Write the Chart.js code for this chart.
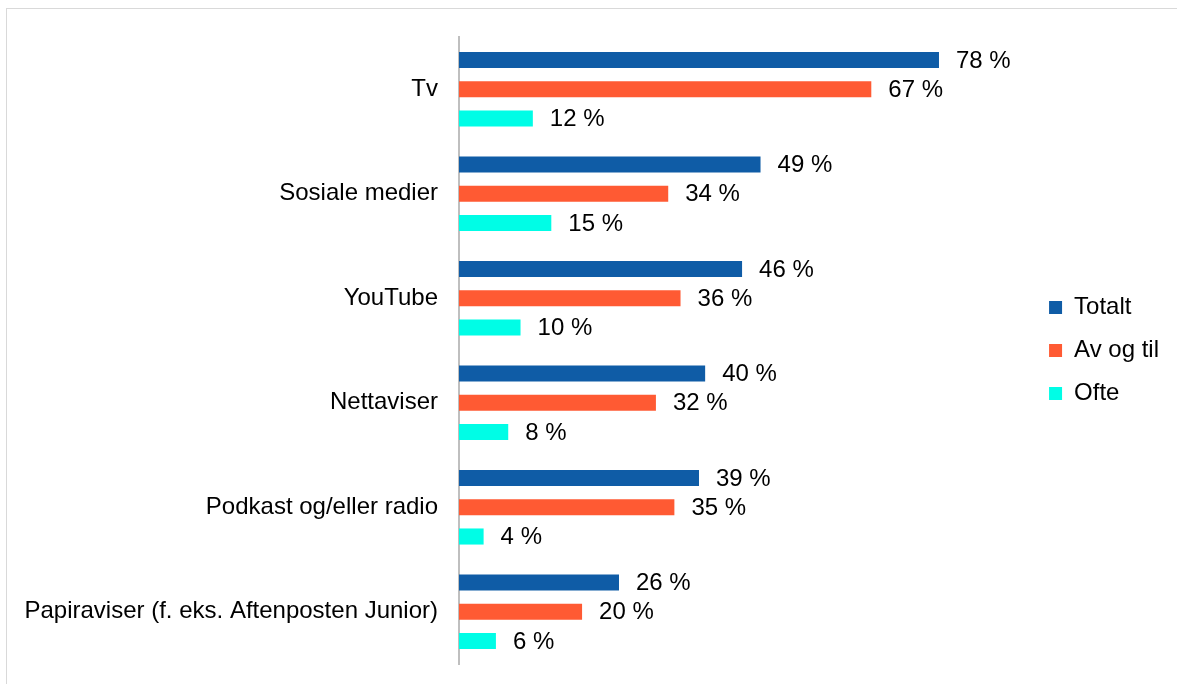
<!DOCTYPE html>
<html>
<head>
<meta charset="utf-8">
<script src="https://cdn.jsdelivr.net/npm/chart.js"></script>
<style>
  html, body { margin: 0; padding: 0; background: #fff; }
  #wrap { position: relative; width: 1177px; height: 684px; overflow: hidden; }
  #frame { position: absolute; left: 6px; top: 8px; width: 1300px; height: 800px; border: 1px solid #d9d9d9; pointer-events: none; }
  canvas { position: absolute; left: 0; top: 0; }
</style>
</head>
<body>
<div id="wrap">
  <canvas id="c" width="1177" height="684"></canvas>
  <div id="frame"></div>
</div>
<script>
const categories = ["Tv", "Sosiale medier", "YouTube", "Nettaviser", "Podkast og/eller radio", "Papiraviser (f. eks. Aftenposten Junior)"];
const seriesNames = ["Totalt", "Av og til", "Ofte"];
const totalt = [78, 49, 46, 40, 39, 26];
const avOgTil = [67, 34, 36, 32, 35, 20];
const ofte = [12, 15, 10, 8, 4, 6];
const colors = ["#0F5CA6", "#FF5A33", "#00FDE6"];

const FONT = "'Liberation Sans', Arial, sans-serif";
const FONT_SIZE = 24;
const PAD_LEFT = 10;

const valueLabels = {
  id: 'valueLabels',
  afterDatasetsDraw(chart) {
    const ctx = chart.ctx;
    ctx.save();
    ctx.font = FONT_SIZE + "px " + FONT;
    ctx.fillStyle = "#000";
    ctx.textAlign = "left";
    ctx.textBaseline = "middle";
    chart.data.datasets.forEach((ds, i) => {
      chart.getDatasetMeta(i).data.forEach((bar, j) => {
        ctx.fillText(ds.data[j] + " %", bar.x + 17, bar.y + 1);
      });
    });
    ctx.restore();
  }
};

new Chart(document.getElementById('c'), {
  type: 'bar',
  data: {
    labels: categories,
    datasets: [
      { label: seriesNames[0], data: totalt, backgroundColor: colors[0] },
      { label: seriesNames[1], data: avOgTil, backgroundColor: colors[1] },
      { label: seriesNames[2], data: ofte, backgroundColor: colors[2] }
    ]
  },
  options: {
    indexAxis: 'y',
    responsive: false,
    animation: false,
    devicePixelRatio: 1,
    categoryPercentage: 0.84,
    barPercentage: 0.55,
    layout: { padding: { top: 37, bottom: 20, left: PAD_LEFT, right: 8 } },
    scales: {
      x: {
        display: false,
        min: 0,
        max: 92.8
      },
      y: {
        grid: { display: false, drawTicks: false },
        border: { display: true, color: '#bfbfbf', width: 2 },
        ticks: { color: '#000', font: { family: FONT, size: FONT_SIZE }, padding: 21 },
        afterFit(scale) {
          scale.width = 459 - PAD_LEFT;
          scale.paddingTop = 0;
          scale.paddingBottom = 0;
        }
      }
    },
    plugins: {
      legend: {
        position: 'right',
        labels: {
          color: '#000',
          font: { family: FONT, size: FONT_SIZE },
          boxWidth: 13,
          boxHeight: 13,
          padding: 19
        }
      },
      tooltip: { enabled: false }
    }
  },
  plugins: [valueLabels]
});
</script>
</body>
</html>
